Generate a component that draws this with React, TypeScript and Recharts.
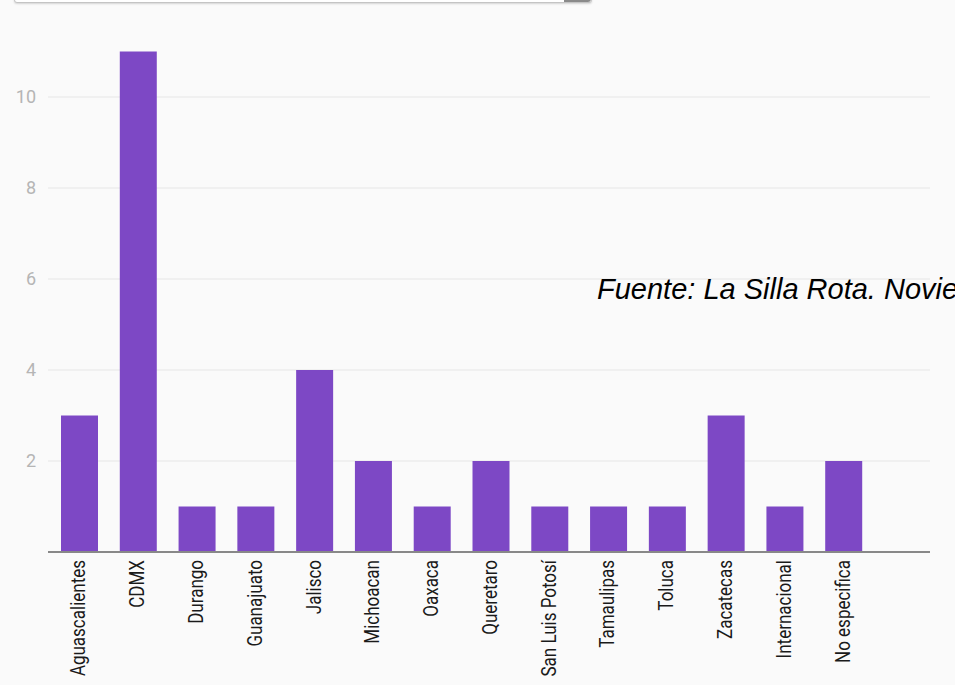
import React from "react";
import { BarChart, Bar, XAxis, YAxis, CartesianGrid } from "recharts";

const states = [
  "Aguascalientes",
  "CDMX",
  "Durango",
  "Guanajuato",
  "Jalisco",
  "Michoacan",
  "Oaxaca",
  "Queretaro",
  "San Luis Potosí",
  "Tamaulipas",
  "Toluca",
  "Zacatecas",
  "Internacional",
  "No especifica",
];
const counts = [3, 11, 1, 1, 4, 2, 1, 2, 1, 1, 1, 3, 1, 2];
const yTicks = [2, 4, 6, 8, 10];
const source = "Fuente: La Silla Rota. Noviembre";

const data = states.map((state, i) => ({ state, count: counts[i] }));

// rotated labels, squeezed along the text to look like a condensed face
function StateTick({ x, y, payload }: any) {
  return (
    <g transform={`translate(${x},${y})`}>
      <text
        transform="rotate(-90) scale(0.85,1)"
        x={0}
        y={6}
        textAnchor="end"
        fontFamily="Roboto, sans-serif"
        fontSize={20}
        fill="#1a1a1a"
      >
        {payload.value}
      </text>
    </g>
  );
}

export default function App() {
  return (
    <div
      style={{
        position: "absolute",
        left: 0,
        top: 0,
        width: 955,
        height: 685,
        background: "#fafafa",
        overflow: "hidden",
      }}
    >
      {/* dropdown cut off at the top */}
      <div
        style={{
          position: "absolute",
          left: 14,
          top: -22,
          width: 576,
          height: 23,
          border: "1px solid #c4c4c4",
          borderRadius: 3,
          background: "#fff",
          boxShadow: "0 1px 2px rgba(0,0,0,0.15)",
        }}
      >
        <div
          style={{
            position: "absolute",
            right: 0,
            top: 0,
            width: 27,
            height: 23,
            background: "#8a8a8a",
            borderRadius: "0 3px 3px 0",
          }}
        />
      </div>

      <BarChart
        width={955}
        height={685}
        data={data}
        margin={{ top: 6, right: 25, bottom: 0, left: 0 }}
      >
        <CartesianGrid
          stroke="#e6e6e6"
          vertical={false}
          horizontalValues={yTicks}
        />
        <XAxis
          dataKey="state"
          interval={0}
          height={133}
          tick={<StateTick />}
          tickLine={false}
          axisLine={{ stroke: "#888", strokeWidth: 2 }}
          padding={{ left: 2, right: 57 }}
        />
        <YAxis
          domain={[0, 12]}
          ticks={yTicks}
          width={48}
          axisLine={false}
          tickLine={false}
          tickSize={6}
          tickMargin={6}
          tick={{ fontSize: 18, fill: "#b5b5b5", fontFamily: "Roboto, sans-serif" }}
        />
        <Bar
          dataKey="count"
          fill="#7d48c5"
          barSize={37}
          isAnimationActive={false}
        />
      </BarChart>

      <div
        style={{
          position: "absolute",
          left: 597,
          top: 275,
          whiteSpace: "nowrap",
          fontFamily: '"Liberation Sans", Arial, sans-serif',
          fontStyle: "italic",
          fontSize: 29,
          lineHeight: "28px",
          color: "#000",
        }}
      >
        {source}
      </div>
    </div>
  );
}
